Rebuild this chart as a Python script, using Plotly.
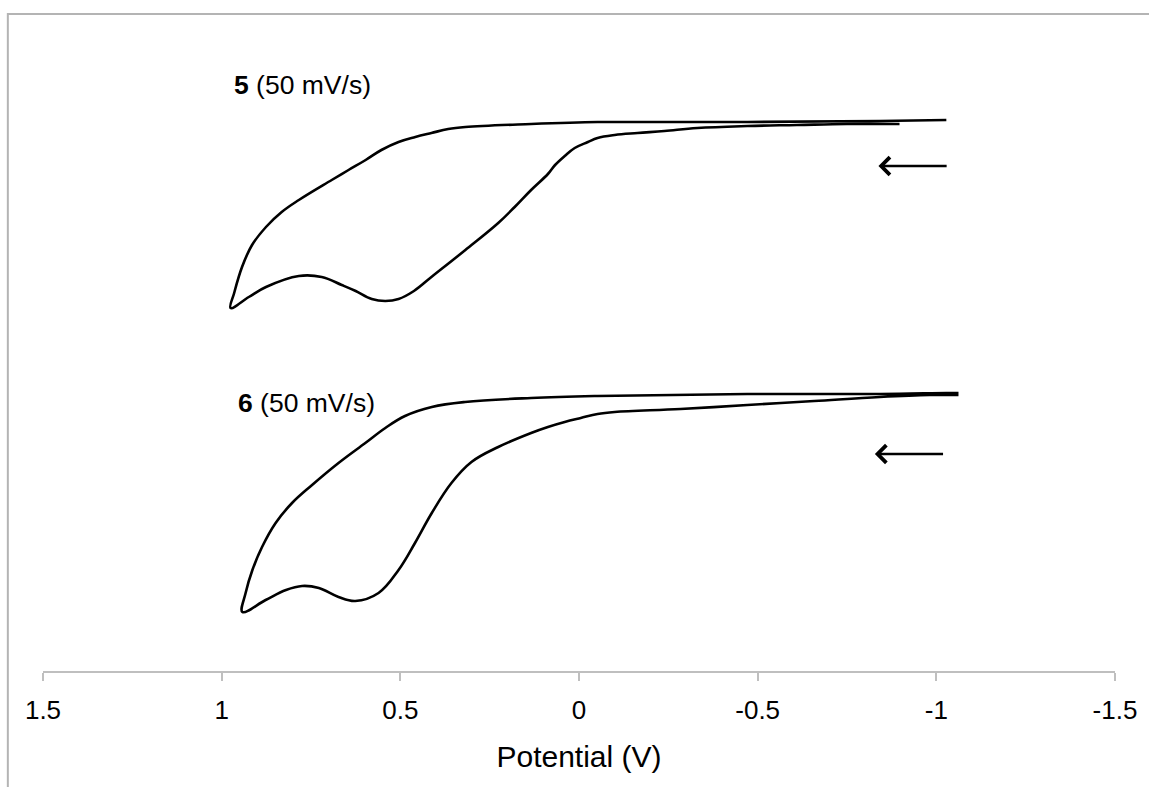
import plotly.graph_objects as go

# ---- data (potential in V, current in arbitrary units) ----
# Compound 5: forward scan (lower branch, right -> left), then return (upper branch)
cv5_lower_E = [-0.897, -0.750, -0.610, -0.471, -0.331, -0.239, -0.164, -0.100, -0.052, -0.025,
               0.012, 0.040, 0.067, 0.087, 0.134, 0.180, 0.226, 0.318, 0.413, 0.462, 0.505, 0.542,
               0.580, 0.625, 0.664, 0.720, 0.784, 0.876, 0.924, 0.975]
cv5_lower_I = [547, 547, 546, 545, 543, 540, 538, 536, 533, 529,
               523, 515, 506, 497, 481, 464, 448, 421, 394, 380, 372, 370,
               372, 380, 386, 394, 395, 384, 374, 363]
cv5_upper_E = [0.965, 0.943, 0.915, 0.876, 0.832, 0.784, 0.692, 0.645, 0.597, 0.553, 0.505,
               0.458, 0.413, 0.366, 0.318, 0.134, -0.052, -0.100, -0.471, -0.842, -1.028]
cv5_upper_I = [378, 404, 426, 444, 459, 471, 491, 501, 511, 521, 529,
               534, 538, 542, 544, 547, 549, 549, 549, 550, 551]

# Compound 6
cv6_lower_E = [-1.062, -0.981, -0.842, -0.658, -0.471, -0.284, -0.100, -0.052, -0.005, 0.040,
               0.087, 0.134, 0.226, 0.301, 0.357, 0.412, 0.459, 0.505, 0.561, 0.626,
               0.673, 0.728, 0.775, 0.820, 0.877, 0.942]
cv6_lower_I = [276, 276, 274, 270, 266, 262, 259, 257, 253, 249,
               244, 238, 224, 209, 188, 158, 128, 101, 78, 70,
               74, 83, 85, 81, 71, 59]
cv6_upper_E = [0.933, 0.914, 0.887, 0.849, 0.803, 0.747, 0.673, 0.598, 0.542, 0.487,
               0.412, 0.319, 0.134, -0.052, -0.471, -0.842, -1.028, -1.062]
cv6_upper_I = [78, 101, 124, 148, 168, 186, 208, 228, 243, 255,
               264, 269, 273, 275, 277, 277, 278, 278]

tick_vals = [1.5, 1, 0.5, 0, -0.5, -1, -1.5]
tick_text = ["1.5", "1", "0.5", "0", "-0.5", "-1", "-1.5"]

labels = ["<b>5</b> (50 mV/s)", "<b>6</b> (50 mV/s)"]
label_pos = [(0.971, 586), (0.961, 268)]
arrows = [((-0.838, 505), (-1.033, 505)), ((-0.828, 217), (-1.023, 217))]

FONT = "Arial, Liberation Sans, Helvetica, sans-serif"

fig = go.Figure()
for E, I in [(cv5_lower_E + cv5_upper_E, cv5_lower_I + cv5_upper_I),
             (cv6_lower_E + cv6_upper_E, cv6_lower_I + cv6_upper_I)]:
    fig.add_trace(go.Scatter(x=E, y=I, mode="lines",
                             line=dict(color="black", width=2.6, shape="spline", smoothing=1.1),
                             showlegend=False, hoverinfo="skip"))

for txt, (x, y) in zip(labels, label_pos):
    fig.add_annotation(x=x, y=y, xref="x", yref="y", text=txt, showarrow=False,
                       xanchor="left", yanchor="middle",
                       font=dict(family=FONT, size=26.5, color="black"))

for (tip, tail) in arrows:
    fig.add_annotation(x=tip[0], y=tip[1], ax=tail[0], ay=tail[1],
                       xref="x", yref="y", axref="x", ayref="y",
                       text="", showarrow=True, arrowhead=4, arrowsize=1.3,
                       arrowwidth=2.6, arrowcolor="black")

# outer frame (partially cropped border, visible on top and left)
fig.add_shape(type="rect", xref="paper", yref="paper",
              x0=-0.0328, x1=1.2, y0=-0.4, y1=1.0092,
              line=dict(color="#b4b4b4", width=2), fillcolor="rgba(0,0,0,0)", layer="below")

fig.update_layout(
    width=1149, height=787,
    margin=dict(l=43, r=30, t=20, b=116),
    paper_bgcolor="white", plot_bgcolor="white",
    font=dict(family=FONT, color="black"),
    xaxis=dict(range=[1.5, -1.5], tickmode="array", tickvals=tick_vals, ticktext=tick_text,
               showline=True, linecolor="#bfbfbf", linewidth=1.5,
               ticks="outside", ticklen=8, tickwidth=1.5, tickcolor="#bfbfbf",
               showgrid=False, zeroline=False,
               tickfont=dict(family=FONT, size=26, color="black"),
               ticklabelstandoff=7,
               title=dict(text="Potential (V)", font=dict(family=FONT, size=30, color="black"),
                          standoff=22)),
    yaxis=dict(range=[0, 651], visible=False, showgrid=False, zeroline=False),
)

fig.write_html("out.html")
